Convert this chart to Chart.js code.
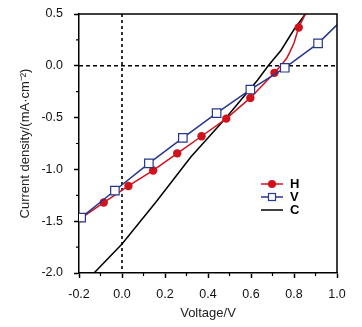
<!DOCTYPE html>
<html>
<head>
<meta charset="utf-8">
<script src="https://cdn.jsdelivr.net/npm/chart.js@4.4.0/dist/chart.umd.min.js"></script>
<style>
  html, body { margin: 0; padding: 0; background: #fff; }
  #wrap { width: 362px; height: 327px; }
</style>
</head>
<body>
<div id="wrap"><canvas id="iv"></canvas></div>
<script>
// H: line points, marker flag says which ones carry a dot
const hVolt = [-0.19, -0.085, 0.03, 0.145, 0.257, 0.37, 0.485, 0.597, 0.709, 0.73, 0.765, 0.78, 0.80, 0.822, 0.853];
const hCurr = [-1.47, -1.32, -1.16, -1.01, -0.845, -0.68, -0.51, -0.31, -0.068, -0.02, 0.07, 0.13, 0.22, 0.37, 0.50];
const hMark = [1, 1, 1, 1, 1, 1, 1, 1, 1, 0, 0, 0, 0, 1, 0];
// V
const vVolt = [-0.19, -0.033, 0.125, 0.283, 0.44, 0.597, 0.757, 0.912, 1.0];
const vCurr = [-1.466, -1.204, -0.942, -0.695, -0.456, -0.229, -0.019, 0.217, 0.395];
const vMark = [1, 1, 1, 1, 1, 1, 1, 1, 0];
// C
const cVolt = [-0.13, 0.0, 0.16, 0.32, 0.48, 0.63, 0.68, 0.74, 0.80, 0.853];
const cCurr = [-2.0, -1.72, -1.31, -0.88, -0.51, -0.14, 0.0, 0.15, 0.35, 0.5];

const xTicks = [-0.2, 0.0, 0.2, 0.4, 0.6, 0.8, 1.0];
const yTicks = [0.5, 0.0, -0.5, -1.0, -1.5, -2.0];
const xMinor = [-0.1, 0.1, 0.3, 0.5, 0.7, 0.9];
const yMinor = [0.25, -0.25, -0.75, -1.25, -1.75];

const RED = '#d0121c';
const BLUE = '#26378c';

const pts = (xs, ys) => xs.map((v, i) => ({ x: v, y: ys[i] }));

Chart.defaults.font.family = "'Liberation Sans', Arial, sans-serif";
Chart.defaults.color = '#111';

const extras = {
    id: 'extras',
    beforeDatasetsDraw(chart) {
        const { ctx, chartArea: a, scales: { x, y } } = chart;
        const x0 = x.getPixelForValue(0);
        const y0 = y.getPixelForValue(0);
        ctx.save();
        ctx.strokeStyle = '#000';
        ctx.lineWidth = 1.6;
        ctx.setLineDash([3, 3]);
        ctx.beginPath();
        ctx.moveTo(x0, a.top);
        ctx.lineTo(x0, a.bottom);
        ctx.stroke();
        ctx.setLineDash([4, 3]);
        ctx.beginPath();
        ctx.moveTo(a.left, y0);
        ctx.lineTo(a.right, y0);
        ctx.stroke();
        ctx.restore();
    },
    afterDraw(chart) {
        const { ctx, chartArea: a, scales: { x, y } } = chart;
        ctx.save();
        ctx.strokeStyle = '#000';
        ctx.lineWidth = 1.5;
        // frame top + right
        ctx.beginPath();
        ctx.moveTo(a.left, a.top);
        ctx.lineTo(a.right, a.top);
        ctx.lineTo(a.right, a.bottom);
        ctx.stroke();
        // minor ticks
        ctx.lineWidth = 1.2;
        ctx.beginPath();
        xMinor.forEach(v => {
            const px = x.getPixelForValue(v);
            ctx.moveTo(px, a.bottom);
            ctx.lineTo(px, a.bottom + 3);
        });
        yMinor.forEach(v => {
            const py = y.getPixelForValue(v);
            ctx.moveTo(a.left, py);
            ctx.lineTo(a.left - 3, py);
        });
        ctx.stroke();

        // legend
        const rows = [
            { label: 'H', color: RED, mark: 'circle', y: 184 },
            { label: 'V', color: BLUE, mark: 'square', y: 197 },
            { label: 'C', color: '#000', mark: null, y: 210 }
        ];
        ctx.font = "bold 13px 'Liberation Sans', Arial, sans-serif";
        ctx.textBaseline = 'middle';
        ctx.textAlign = 'left';
        rows.forEach(r => {
            ctx.strokeStyle = r.color;
            ctx.lineWidth = 1.5;
            ctx.beginPath();
            ctx.moveTo(261, r.y);
            ctx.lineTo(283, r.y);
            ctx.stroke();
            if (r.mark === 'circle') {
                ctx.fillStyle = r.color;
                ctx.beginPath();
                ctx.arc(272, r.y, 4, 0, Math.PI * 2);
                ctx.fill();
            } else if (r.mark === 'square') {
                ctx.fillStyle = '#fff';
                ctx.lineWidth = 1.2;
                ctx.fillRect(268.5, r.y - 3.5, 7, 7);
                ctx.strokeRect(268.5, r.y - 3.5, 7, 7);
            }
            ctx.fillStyle = '#000';
            ctx.fillText(r.label, 290, r.y + 0.5);
        });
        ctx.restore();
    }
};

new Chart(document.getElementById('iv'), {
    type: 'line',
    data: {
        datasets: [
            {
                label: 'V',
                data: pts(vVolt, vCurr),
                borderColor: BLUE,
                borderWidth: 1.5,
                backgroundColor: '#fff',
                pointStyle: 'rect',
                pointRadius: vMark.map(m => m ? 6 : 0),
                pointBorderColor: BLUE,
                pointBorderWidth: 1.2,
                pointBackgroundColor: '#fff',
                tension: 0,
                order: 0
            },
            {
                label: 'H',
                data: pts(hVolt, hCurr),
                borderColor: RED,
                borderWidth: 1.5,
                backgroundColor: RED,
                pointStyle: 'circle',
                pointRadius: hMark.map(m => m ? 4.2 : 0),
                pointBorderWidth: 0,
                pointBackgroundColor: RED,
                tension: 0,
                order: 1
            },
            {
                label: 'C',
                data: pts(cVolt, cCurr),
                borderColor: '#000',
                borderWidth: 1.5,
                pointRadius: 0,
                tension: 0,
                order: 2
            }
        ]
    },
    options: {
        responsive: true,
        maintainAspectRatio: false,
        animation: false,
        events: [],
        layout: { padding: { top: 14, right: 25, left: 0, bottom: 0 } },
        plugins: { legend: { display: false }, tooltip: { enabled: false } },
        scales: {
            x: {
                type: 'linear',
                min: -0.2,
                max: 1.0,
                afterBuildTicks: s => { s.ticks = xTicks.map(v => ({ value: v })); },
                afterFit: s => { s.height = 54; },
                ticks: {
                    font: { size: 12.5 },
                    padding: 9,
                    maxRotation: 0,
                    callback: v => v.toFixed(1)
                },
                grid: { drawOnChartArea: false, tickLength: 5, tickColor: '#000', tickWidth: 1.5 },
                border: { color: '#000', width: 1.5 },
                title: {
                    display: true,
                    text: 'Voltage/V',
                    font: { size: 13 },
                    color: '#222',
                    padding: { top: 6, bottom: 6 }
                }
            },
            y: {
                type: 'linear',
                min: -2.0,
                max: 0.5,
                afterBuildTicks: s => { s.ticks = yTicks.map(v => ({ value: v })); },
                afterFit: s => { s.width = 79; s.paddingTop = 7; s.paddingBottom = 7; },
                ticks: {
                    font: { size: 12.5 },
                    padding: 11,
                    callback: v => v.toFixed(1)
                },
                grid: { drawOnChartArea: false, tickLength: 5, tickColor: '#000', tickWidth: 1.5 },
                border: { color: '#000', width: 1.5 },
                title: {
                    display: true,
                    text: 'Current density/(mA·cm⁻²)',
                    font: { size: 13 },
                    color: '#222',
                    padding: { top: 18, bottom: 18 }
                }
            }
        }
    },
    plugins: [extras]
});
</script>
</body>
</html>
